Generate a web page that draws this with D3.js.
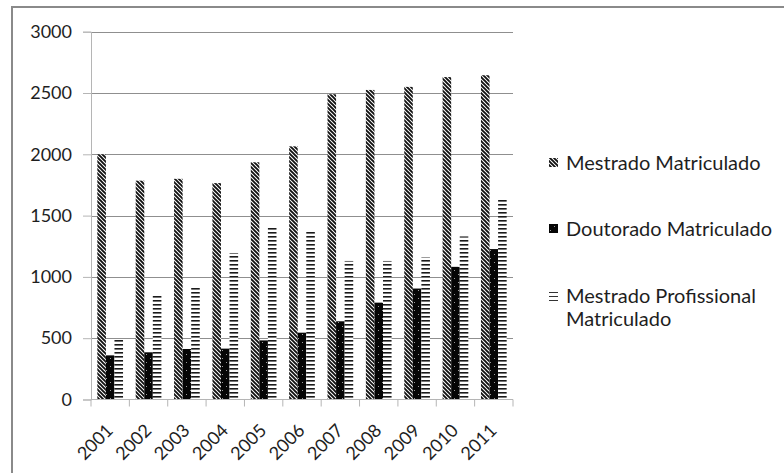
<!DOCTYPE html>
<html>
<head>
<meta charset="utf-8">
<script src="https://cdn.jsdelivr.net/npm/d3@7"></script>
<style>
  html, body { margin: 0; padding: 0; background: #fff; }
  svg { display: block; }
  text { font-family: Lato, "Open Sans", sans-serif; fill: #1e1e1e; }
</style>
</head>
<body>
<svg id="chart" width="784" height="473"></svg>
<script>
// Enrolment figures per year
const years = ["2001","2002","2003","2004","2005","2006","2007","2008","2009","2010","2011"];
const seriesNames = ["Mestrado Matriculado", "Doutorado Matriculado", "Mestrado Profissional Matriculado"];
const mestrado     = [2000, 1785, 1800, 1765, 1935, 2065, 2490, 2525, 2550, 2630, 2645];
const doutorado    = [360, 385, 412, 415, 482, 545, 638, 790, 905, 1082, 1227];
const profissional = [490, 860, 925, 1195, 1400, 1370, 1130, 1130, 1160, 1330, 1640];
const yTicks = [0, 500, 1000, 1500, 2000, 2500, 3000];

const seriesValues = [mestrado, doutorado, profissional];
const patternIds = ["pat-diag", "pat-dots", "pat-horiz"];

const svg = d3.select("#chart");
const defs = svg.append("defs");

// wide downward diagonal hatch
const pDiag = defs.append("pattern").attr("id", "pat-diag")
  .attr("patternUnits", "userSpaceOnUse").attr("width", 4).attr("height", 4);
pDiag.append("rect").attr("width", 4).attr("height", 4).attr("fill", "#fff");
pDiag.append("path").attr("d", "M-1,-1 L5,5 M-1,3 L1,5 M3,-1 L5,1")
  .attr("stroke", "#111").attr("stroke-width", 1.9);

// solid black with sparse light dots
const pDots = defs.append("pattern").attr("id", "pat-dots")
  .attr("patternUnits", "userSpaceOnUse").attr("width", 8).attr("height", 8);
pDots.append("rect").attr("width", 8).attr("height", 8).attr("fill", "#050505");
pDots.append("rect").attr("x", 2).attr("y", 2).attr("width", 1).attr("height", 1).attr("fill", "#9a9a9a");
pDots.append("rect").attr("x", 6).attr("y", 6).attr("width", 1).attr("height", 1).attr("fill", "#9a9a9a");

// horizontal line hatch
const pHoriz = defs.append("pattern").attr("id", "pat-horiz")
  .attr("patternUnits", "userSpaceOnUse").attr("width", 4).attr("height", 4);
pHoriz.append("rect").attr("width", 4).attr("height", 4).attr("fill", "#fff");
pHoriz.append("rect").attr("y", 0).attr("width", 4).attr("height", 1.6).attr("fill", "#1a1a1a");

// outer frame
svg.append("rect").attr("x", 12).attr("y", 7).attr("width", 800).attr("height", 500)
  .attr("fill", "none").attr("stroke", "#8a8a8a").attr("stroke-width", 2);

const plotLeft = 91, plotRight = 513;
const y = d3.scaleLinear().domain([0, 3000]).range([399.5, 31.7]);
const x = d3.scaleBand().domain(years).range([plotLeft, plotRight]).paddingInner(0).paddingOuter(0);
const bw = x.bandwidth();
const xs = d3.scaleBand().domain(d3.range(3)).range([bw * 0.165, bw * 0.835]).padding(0);

// horizontal gridlines
svg.append("g").selectAll("line").data(yTicks.filter(d => d > 0)).join("line")
  .attr("x1", plotLeft).attr("x2", plotRight)
  .attr("y1", d => Math.round(y(d)) + 0.5).attr("y2", d => Math.round(y(d)) + 0.5)
  .attr("stroke", "#8f8f8f").attr("stroke-width", 1);

// y axis
const yAxis = d3.axisLeft(y).tickValues(yTicks).tickSize(8).tickPadding(11).tickFormat(d3.format("d"));
const gy = svg.append("g").attr("transform", `translate(${plotLeft},0)`).call(yAxis);
gy.select(".domain").attr("stroke", "#b5b5b5");
gy.selectAll(".tick line").attr("stroke", "#b5b5b5");
gy.selectAll(".tick text").attr("font-size", 18).style("font-family", "Lato, sans-serif").attr("fill", "#1e1e1e");

// bars
seriesValues.forEach((vals, si) => {
  svg.append("g").selectAll("rect").data(vals).join("rect")
    .attr("x", (d, i) => x(years[i]) + xs(si))
    .attr("width", xs.bandwidth())
    .attr("y", d => y(d))
    .attr("height", d => y(0) - y(d))
    .attr("fill", `url(#${patternIds[si]})`);
});

// x axis with ticks at the category boundaries
const bottom = svg.append("g");
bottom.append("line").attr("x1", plotLeft).attr("x2", plotRight)
  .attr("y1", y(0)).attr("y2", y(0)).attr("stroke", "#b5b5b5");
const bounds = years.map(d => x(d)).concat([plotRight]);
bottom.selectAll("line.tk").data(bounds).join("line").attr("class", "tk")
  .attr("x1", d => d).attr("x2", d => d).attr("y1", y(0)).attr("y2", y(0) + 7)
  .attr("stroke", "#b5b5b5");
bottom.selectAll("text").data(years).join("text")
  .attr("transform", d => `translate(${x(d) + bw / 2 + 4},${y(0) + 32}) rotate(-45)`)
  .attr("text-anchor", "end")
  .attr("font-size", 18)
  .text(d => d);

// legend
const legend = svg.append("g");
const legendRows = [
  { y: 163, lines: ["Mestrado Matriculado"] },
  { y: 229, lines: ["Doutorado Matriculado"] },
  { y: 296, lines: ["Mestrado Profissional", "Matriculado"] }
];
legendRows.forEach((row, i) => {
  if (i === 2) {
    legend.append("g").selectAll("line").data([0, 4, 8]).join("line")
      .attr("x1", 549).attr("x2", 558)
      .attr("y1", d => row.y - 4 + d + 0.5).attr("y2", d => row.y - 4 + d + 0.5)
      .attr("stroke", "#333").attr("stroke-width", 1);
  } else {
    legend.append("rect").attr("x", 549).attr("y", row.y - 5).attr("width", 9).attr("height", 9)
      .attr("fill", `url(#${patternIds[i]})`);
  }
  legend.append("text").attr("x", 566).attr("y", row.y).attr("dy", "0.35em")
    .attr("font-size", 20)
    .selectAll("tspan").data(row.lines).join("tspan")
    .attr("x", 566).attr("dy", (d, j) => j === 0 ? "0.35em" : "23px")
    .text(d => d);
});
</script>
</body>
</html>
